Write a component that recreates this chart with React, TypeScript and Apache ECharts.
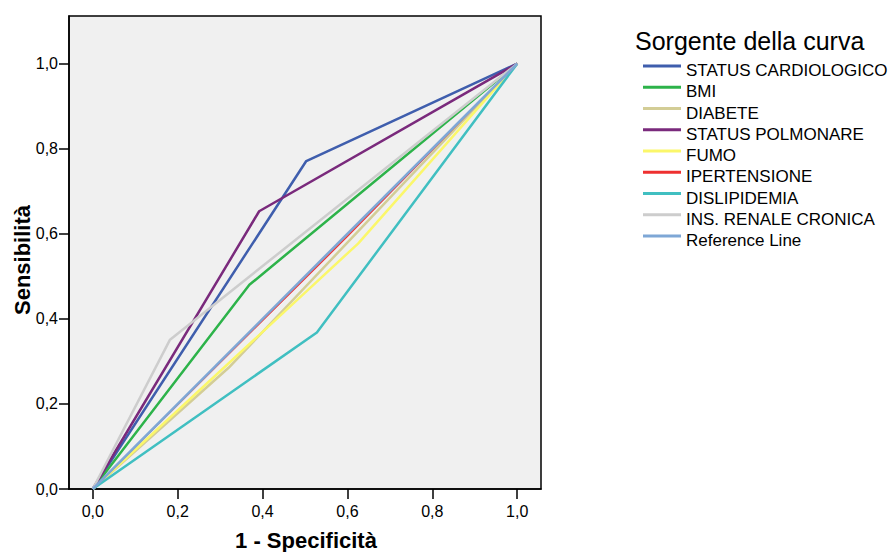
import React, { useEffect, useRef } from "react";
import * as echarts from "echarts";

// ROC curves: [1 - specificity, sensitivity]
const statusCardiologico: [number, number][] = [[0, 0], [0.503, 0.771], [1, 1]];
const bmi: [number, number][] = [[0, 0], [0.369, 0.48], [1, 1]];
const diabete: [number, number][] = [[0, 0], [0.32, 0.285], [1, 1]];
const statusPolmonare: [number, number][] = [[0, 0], [0.392, 0.653], [1, 1]];
const fumo: [number, number][] = [[0, 0], [0.625, 0.577], [1, 1]];
const ipertensione: [number, number][] = [[0, 0], [0.6, 0.594], [1, 1]];
const dislipidemia: [number, number][] = [[0, 0], [0.528, 0.368], [1, 1]];
const insRenaleCronica: [number, number][] = [[0, 0], [0.182, 0.351], [1, 1]];
const referenceLine: [number, number][] = [[0, 0], [1, 1]];

const tickValues = [0, 0.2, 0.4, 0.6, 0.8, 1.0];

const seriesDefs = [
  { name: "STATUS CARDIOLOGICO", data: statusCardiologico, color: "#3f5ead", width: 2.5 },
  { name: "BMI", data: bmi, color: "#2db34a", width: 2.5 },
  { name: "DIABETE", data: diabete, color: "#d3cd96", width: 2.5 },
  { name: "STATUS POLMONARE", data: statusPolmonare, color: "#7a2a7c", width: 2.5 },
  { name: "FUMO", data: fumo, color: "#fbf76a", width: 2.5 },
  { name: "IPERTENSIONE", data: ipertensione, color: "#ee3030", width: 1.5 },
  { name: "DISLIPIDEMIA", data: dislipidemia, color: "#40bfc1", width: 2.5 },
  { name: "INS. RENALE CRONICA", data: insRenaleCronica, color: "#cdcdcd", width: 2.5 },
  { name: "Reference Line", data: referenceLine, color: "#7ea7d6", width: 2.5 },
];

const FONT = '"Liberation Sans", Arial, sans-serif';
const fmt = (v: number) => v.toFixed(1).replace(".", ",");

export default function App() {
  const ref = useRef<HTMLDivElement>(null);

  useEffect(() => {
    if (!ref.current) return;
    const chart = echarts.init(ref.current, null, { renderer: "svg" });
    const axisCommon = {
      type: "value" as const,
      axisLine: { show: true, onZero: false, lineStyle: { color: "#000", width: 1.5 } },
      axisTick: { show: true, length: 10, customValues: tickValues, lineStyle: { color: "#000", width: 1.5 } },
      axisLabel: { customValues: tickValues, formatter: fmt, color: "#000", fontSize: 16, fontFamily: FONT },
      splitLine: { show: false },
    };
    chart.setOption({
      animation: false,
      backgroundColor: "#fff",
      grid: {
        left: 69,
        top: 16,
        right: 352,
        bottom: 63,
        show: true,
        backgroundColor: "#f0f0f0",
        borderColor: "#000",
        borderWidth: 1.5,
      },
      xAxis: { ...axisCommon, min: -0.056, max: 1.056, axisLabel: { ...axisCommon.axisLabel, margin: 14 } },
      yAxis: { ...axisCommon, min: 0, max: 1.112, axisLabel: { ...axisCommon.axisLabel, margin: 11 } },
      legend: {
        orient: "vertical",
        left: 643,
        top: 53,
        padding: 0,
        itemWidth: 38,
        itemHeight: 3,
        itemGap: -4.75,
        icon: "rect",
        formatter: (name: string) => `{t|${name}}`,
        textStyle: {
          fontSize: 17,
          color: "#000",
          fontFamily: FONT,
          rich: { t: { fontSize: 17, color: "#000", fontFamily: FONT, lineHeight: 17, padding: [9, 0, 0, 0] } },
        },
        data: seriesDefs.map((s) => s.name),
      },
      graphic: [
        {
          type: "text",
          x: 635,
          y: 41,
          style: { text: "Sorgente della curva", font: `25px ${FONT}`, fill: "#000", align: "left", verticalAlign: "middle" },
        },
        {
          type: "text",
          x: 306,
          y: 540,
          style: { text: "1 - Specificità", font: `bold 22px ${FONT}`, fill: "#000", align: "center", verticalAlign: "middle" },
        },
        {
          type: "text",
          x: 22,
          y: 260,
          rotation: Math.PI / 2,
          style: { text: "Sensibilità", font: `bold 22px ${FONT}`, fill: "#000", align: "center", verticalAlign: "middle" },
        },
      ],
      series: seriesDefs.map((s) => ({
        name: s.name,
        type: "line",
        data: s.data,
        showSymbol: false,
        symbol: "none",
        color: s.color,
        lineStyle: { color: s.color, width: s.width },
        itemStyle: { color: s.color },
        emphasis: { disabled: true },
      })),
    });
    return () => chart.dispose();
  }, []);

  return <div ref={ref} style={{ position: "absolute", left: 0, top: 0, width: 893, height: 552 }} />;
}
